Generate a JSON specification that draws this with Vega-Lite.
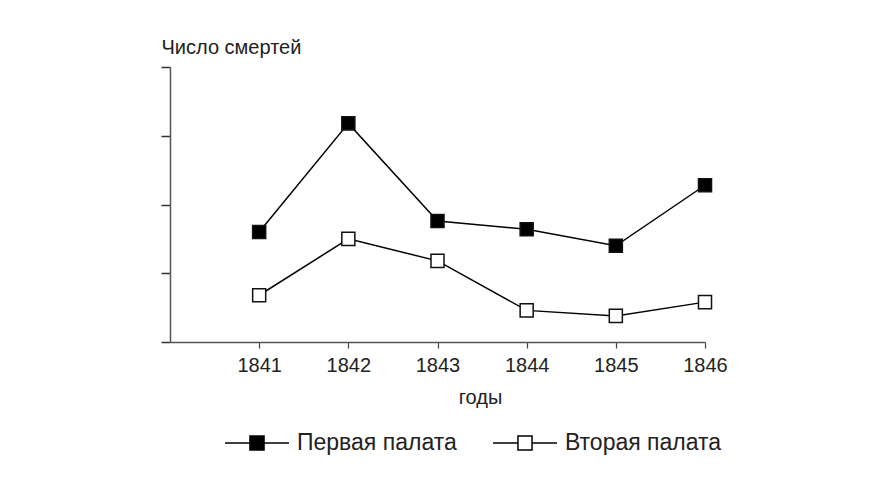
{
  "$schema": "https://vega.github.io/schema/vega-lite/v6.json",
  "width": 535,
  "height": 275,
  "autosize": {"type": "none"},
  "padding": {"left": 170, "top": 67, "right": 164, "bottom": 140},
  "background": "white",
  "config": {
    "view": {"stroke": null},
    "font": "Liberation Sans",
    "axis": {"grid": false, "labelColor": "#222", "titleColor": "#222", "labelFont": "Liberation Sans", "titleFont": "Liberation Sans", "titleFontWeight": "normal"}
  },
  "data": {
    "values": [
      {"year": 1841, "ward": "Первая палата", "value": 8.0},
      {"year": 1842, "ward": "Первая палата", "value": 15.9},
      {"year": 1843, "ward": "Первая палата", "value": 8.8},
      {"year": 1844, "ward": "Первая палата", "value": 8.2},
      {"year": 1845, "ward": "Первая палата", "value": 7.0},
      {"year": 1846, "ward": "Первая палата", "value": 11.4},
      {"year": 1841, "ward": "Вторая палата", "value": 3.4},
      {"year": 1842, "ward": "Вторая палата", "value": 7.5},
      {"year": 1843, "ward": "Вторая палата", "value": 5.9},
      {"year": 1844, "ward": "Вторая палата", "value": 2.3},
      {"year": 1845, "ward": "Вторая палата", "value": 1.9},
      {"year": 1846, "ward": "Вторая палата", "value": 2.9}
    ]
  },
  "encoding": {
    "x": {
      "field": "year", "type": "quantitative",
      "scale": {"domain": [1840, 1846], "nice": false, "zero": false},
      "axis": {
        "values": [1841, 1842, 1843, 1844, 1845, 1846], "format": "d",
        "labelFlush": false, "labelOverlap": false, "labelBound": false,
        "title": "годы", "titleFontSize": 20, "titleBaseline": "alphabetic", "titleY": 61,
        "titleX": 310, "titleAnchor": null, "titleAlign": "center",
        "labelFontSize": 20, "labelBaseline": "alphabetic", "labelPadding": 23,
        "tickSize": 6, "tickColor": "#444", "domainColor": "#555", "domainWidth": 1.5, "tickWidth": 1.2
      }
    },
    "y": {
      "field": "value", "type": "quantitative",
      "scale": {"domain": [0, 20], "nice": false},
      "axis": {
        "values": [0, 5, 10, 15, 20], "labels": false,
        "title": "Число смертей", "titleAngle": 0, "titleAlign": "left", "titleBaseline": "alphabetic",
        "titleX": -9, "titleY": -14, "titleFontSize": 20,
        "tickSize": 9, "tickColor": "#333", "domainColor": "#555", "domainWidth": 1.5, "tickWidth": 1.5
      }
    }
  },
  "layer": [
    {
      "mark": {"type": "line", "color": "black", "strokeWidth": 1.5},
      "encoding": {"detail": {"field": "ward"}}
    },
    {
      "mark": {"type": "point", "shape": "square", "size": 170, "filled": false, "stroke": "#111", "strokeWidth": 1.5, "opacity": 1},
      "encoding": {
        "fill": {
          "field": "ward", "type": "nominal",
          "scale": {"domain": ["Первая палата", "Вторая палата"], "range": ["black", "white"]},
          "legend": {
            "title": null, "orient": "none", "direction": "horizontal",
            "legendX": 54, "legendY": 343,
            "symbolType": "M-1,0H-0.22M0.22,0H1M-0.22,-0.22H0.22V0.22H-0.22Z",
            "symbolSize": 4096, "symbolStrokeColor": "black", "symbolStrokeWidth": 1.5,
            "labelFontSize": 23, "labelFont": "Liberation Sans", "labelColor": "#222", "labelOffset": 7,
            "columnPadding": 33,
            "encode": {"symbols": {"update": {"stroke": {"value": "black"}, "strokeWidth": {"value": 1.5}, "opacity": {"value": 1}}}}
          }
        }
      }
    }
  ]
}
